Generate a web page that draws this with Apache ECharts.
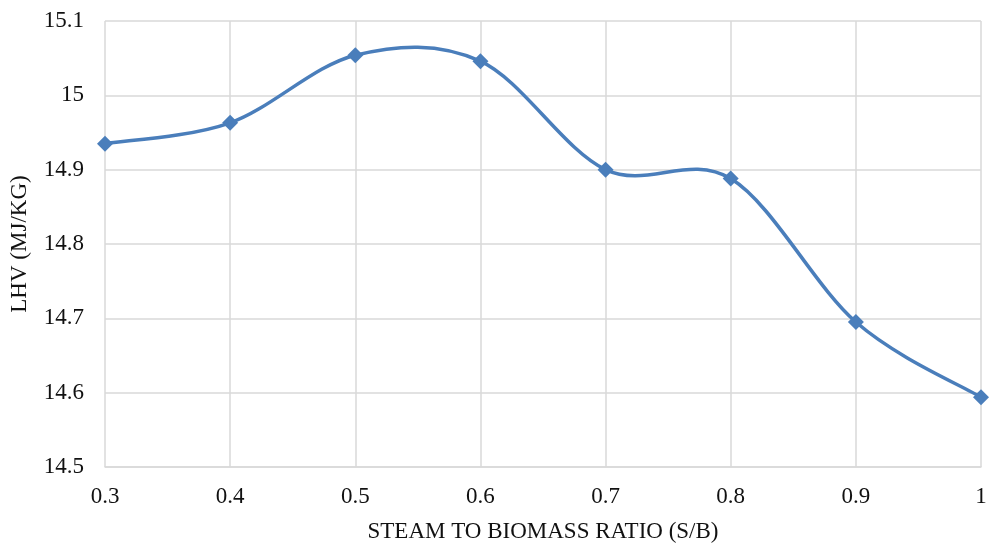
<!DOCTYPE html>
<html>
<head>
<meta charset="utf-8">
<script src="https://cdn.jsdelivr.net/npm/echarts@6/dist/echarts.min.js"></script>
<style>
  html, body { margin: 0; padding: 0; background: #fff; }
  #chart { width: 990px; height: 549px; }
</style>
</head>
<body>
<div id="chart"></div>
<script>
// Steam-to-biomass ratio (S/B) and resulting lower heating value of the syngas
const ratios = ['0.3', '0.4', '0.5', '0.6', '0.7', '0.8', '0.9', '1'];
const lhv = [14.935, 14.963, 15.054, 15.046, 14.900, 14.888, 14.695, 14.594];
const yTicks = { min: 14.5, max: 15.1, step: 0.1 };

const FONT = '"Liberation Serif", "DejaVu Serif", serif';
const TEXT = '#111111';
const gridColor = '#d9d9d9';
const lineColor = '#4a7ebb';

// Smoothed curve through the points (Catmull-Rom style cubic Béziers),
// positioned with the chart's own coordinate system via api.coord.
function renderCurve(params, api) {
  if (params.dataIndex !== 0) return null;
  const pts = lhv.map((v, i) => api.coord([i, v]));
  const n = pts.length;
  const P = i => pts[Math.max(0, Math.min(n - 1, i))];
  let d = 'M' + pts[0][0] + ' ' + pts[0][1];
  for (let i = 0; i < n - 1; i++) {
    const p0 = P(i - 1), p1 = P(i), p2 = P(i + 1), p3 = P(i + 2);
    const c1x = p1[0] + (p2[0] - p0[0]) / 6, c1y = p1[1] + (p2[1] - p0[1]) / 6;
    const c2x = p2[0] - (p3[0] - p1[0]) / 6, c2y = p2[1] - (p3[1] - p1[1]) / 6;
    d += ' C' + c1x + ' ' + c1y + ' ' + c2x + ' ' + c2y + ' ' + p2[0] + ' ' + p2[1];
  }
  return {
    type: 'path',
    shape: { pathData: d },
    style: { fill: null, stroke: lineColor, lineWidth: 3.5, lineJoin: 'round', lineCap: 'round' }
  };
}

const chart = echarts.init(document.getElementById('chart'), null, { renderer: 'canvas' });
chart.setOption({
  animation: false,
  backgroundColor: '#ffffff',
  grid: { left: 104, right: 9, top: 21, bottom: 82, containLabel: false },
  xAxis: {
    type: 'category',
    data: ratios,
    boundaryGap: false,
    name: 'STEAM TO BIOMASS RATIO (S/B)',
    nameLocation: 'middle',
    nameGap: 53,
    nameTextStyle: { fontFamily: FONT, fontSize: 23, color: TEXT },
    axisLine: { show: true, lineStyle: { color: gridColor, width: 1.5 } },
    axisTick: { show: false },
    axisLabel: { fontFamily: FONT, fontSize: 23, color: TEXT, margin: 18 },
    splitLine: { show: true, lineStyle: { color: gridColor, width: 1.5 } }
  },
  yAxis: {
    type: 'value',
    min: yTicks.min,
    max: yTicks.max,
    interval: yTicks.step,
    name: 'LHV (MJ/KG)',
    nameLocation: 'middle',
    nameGap: 74,
    nameTextStyle: { fontFamily: FONT, fontSize: 23, color: TEXT },
    axisLine: { show: false },
    axisTick: { show: false },
    axisLabel: {
      fontFamily: FONT, fontSize: 23, color: TEXT, margin: 21,
      formatter: v => String(parseFloat(v.toFixed(1)))
    },
    splitLine: { show: true, lineStyle: { color: gridColor, width: 1.5 } }
  },
  series: [
    {
      type: 'custom',
      renderItem: renderCurve,
      data: lhv.map((v, i) => [i, v]),
      encode: { x: 0, y: 1 },
      z: 2,
      silent: true
    },
    {
      type: 'scatter',
      data: lhv.map((v, i) => [i, v]),
      symbol: 'diamond',
      symbolSize: 16,
      itemStyle: { color: lineColor, opacity: 1 },
      z: 3
    }
  ]
});
</script>
</body>
</html>
